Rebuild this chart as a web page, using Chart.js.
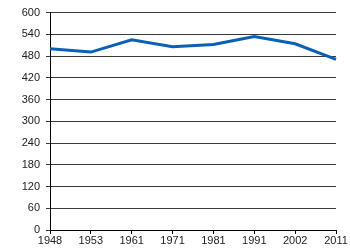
<!DOCTYPE html>
<html>
<head>
<meta charset="utf-8">
<script src="https://cdn.jsdelivr.net/npm/chart.js@4"></script>
<style>
  html, body { margin: 0; padding: 0; background: #fff; }
  #wrap { width: 350px; height: 250px; }
</style>
</head>
<body>
<div id="wrap"><canvas id="myChart" width="350" height="250"></canvas></div>
<script>
const years = ["1948", "1953", "1961", "1971", "1981", "1991", "2002", "2011"];
const population = [500, 491, 525, 506, 512, 534, 514, 471];
const yTicks = [0, 60, 120, 180, 240, 300, 360, 420, 480, 540, 600];

function displayChart(){
  const ctx = document.getElementById("myChart").getContext("2d");
  const myChart = new Chart(ctx, {
    type: "line",
    data: {
      labels: years,
      datasets: [
        {
          label: "Population",
          data: population,
          borderColor: "#0a60b6",
          borderWidth: 3,
          pointRadius: 0,
          tension: 0,
          fill: false,
        },
      ],
    },
    options: {
      responsive: false,
      animation: false,
      layout: { padding: { left: 0, right: 14, top: 10, bottom: 0 } },
      plugins: { legend: { display: false }, tooltip: { enabled: false } },
      scales: {
        x: {
          offset: false,
          grid: { display: true, drawOnChartArea: false, drawTicks: true, tickLength: 4, color: "#000" },
          border: { color: "#000", width: 1 },
          ticks: {
            color: "#222",
            font: { family: "Liberation Sans", size: 11 },
            autoSkip: false,
            maxRotation: 0,
            padding: 0,
          },
          afterFit: (scale) => { scale.height = 20; },
        },
        y: {
          min: 0,
          max: 600,
          afterBuildTicks: (scale) => { scale.ticks = yTicks.map(v => ({ value: v })); },
          grid: { color: "#3a3a3a", tickLength: 4, lineWidth: 1 },
          border: { color: "#000", width: 1 },
          ticks: {
            color: "#222",
            font: { family: "Liberation Sans", size: 11 },
            padding: 6,
          },
          afterFit: (scale) => { scale.width = 50; },
        },
      },
    },
  });
};
displayChart();
</script>
</body>
</html>
